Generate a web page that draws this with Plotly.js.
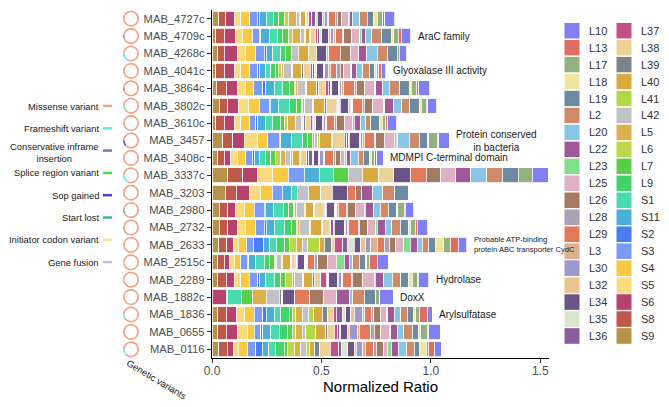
<!DOCTYPE html>
<html><head><meta charset="utf-8">
<script src="https://cdn.plot.ly/plotly-3.0.1.min.js"></script>
<style>html,body{margin:0;padding:0;background:#fff}#chart{width:669px;height:407px}</style>
</head><body><div id="chart"></div>
<script>
// ---------- categories ----------
const genes = ['MAB_4727c','MAB_4709c','MAB_4268c','MAB_4041c','MAB_3864c','MAB_3802c','MAB_3610c','MAB_3457','MAB_3408c','MAB_3337c','MAB_3203','MAB_2980','MAB_2732','MAB_2633','MAB_2515c','MAB_2289','MAB_1882c','MAB_1836','MAB_0655','MAB_0116'];

// legend order of the stacked components and their colours
const legendNames  = ['L10','L13','L17','L18','L19','L2','L20','L22','L23','L25','L26','L28','L29','L3','L30','L32','L34','L35','L36','L37','L38','L39','L40','L41','L42','L5','L6','L7','L9','S1','S11','S2','S3','S4','S5','S6','S8','S9'];
const legendColors = ['#8080F2','#DE6E5F','#92B381','#EFE4A0','#6E8AA0','#CF8A6A','#87C6E6','#A05898','#7FDF8A','#E0B0C4','#A57A62','#A9A2B3','#E07A5A','#DEB08E','#9F98CD','#ECC48E','#6B5587','#D9E5CD','#8C5C9C','#C45088','#ECD296','#7B8589','#D9AA42','#B2D846','#C2C1C6','#DEB04C','#BAD84A','#5ACF4A','#44D46E','#48DAB0','#4AB0D8','#4A7CF2','#7B9BF8','#FAC942','#FADC7F','#B8426E','#BE5A4A','#B8924A'];

// stacking order (left to right) of the values in each gene row
const segments = ['S9','S8','S6','S5','S4','S3','S2','S11','S1','L9','L7','L6','L5','L42','L41','L40','L39','L38','L37','L36','L35','L34','L32','L30','L3','L29','L28','L26','L25','L23','L22','L20','L2','L19','L18','L17','L13','L10'];

// ---------- normalized ratio per component, one row per gene (segments order) ----------
const MAB_4727c = [.030,.033,.041,.027,.041,.035,.008,.033,.035,.023,.023,.020,.038,.012,.006,.023,.005,.010,.012,.020,.006,.025,.008,.012,.008,.030,.008,.020,.030,.006,.012,.035,.035,.030,.015,.025,.010,.046];
const MAB_4709c = [.018,.038,.053,.030,.046,.030,.008,.038,.040,.020,.030,.015,.040,.015,.008,.015,.006,.025,.008,.010,.008,.030,.010,.012,.012,.030,.008,.033,.040,.006,.018,.030,.045,.045,.010,.022,.012,.045];
const MAB_4268c = [.026,.030,.061,.038,.046,.038,.008,.030,.038,.020,.026,0,0,.034,0,.046,0,.038,0,0,0,.046,0,0,.008,.053,0,.046,.038,0,.038,.046,.046,.046,0,.010,0,.035];
const MAB_4041c = [.018,.038,.046,.030,.038,.038,.008,.030,.023,.023,.010,.015,.010,.038,.005,.040,.008,.030,.012,.010,.008,.030,.008,.015,.010,.030,.015,.015,.030,.008,.020,.030,.030,.025,.008,.010,.012,.020];
const MAB_3864c = [.020,.045,.053,.035,.038,.040,.015,.038,.038,.030,.023,.005,.010,.038,.006,.045,.006,.035,.012,.010,.006,.030,.006,.010,.006,.053,.006,.038,.046,.006,.030,.032,.046,.046,.008,.022,.012,.050];
const MAB_3802c = [.033,.040,.050,.046,.046,.046,.006,.036,.053,.030,.023,.006,.008,.038,.005,.050,.005,.046,.008,.005,.005,.041,.005,.008,.005,.046,.005,.040,.050,.005,.038,.038,.038,.046,.006,.023,.008,.039];
const MAB_3610c = [.018,.038,.046,.030,.038,.030,.008,.038,.030,.036,.020,.015,.035,.025,.005,.008,.006,.023,.008,.008,.008,.030,.005,.010,.006,.038,.006,.038,.038,.006,.030,.023,.023,.038,.015,.015,.010,.041];
const MAB_3457  = [.049,.045,.053,.061,.046,.053,.008,.046,.053,.023,.023,0,.008,.015,.008,.053,.008,.053,.010,.008,.005,.046,.005,.008,.008,.046,.008,.038,.046,.008,.008,.053,.046,.038,.005,.038,.008,.047];
const MAB_3408c = [.026,.030,.030,.030,.038,.030,.008,.023,.030,.023,.023,.023,.023,.023,.008,.030,.006,.030,.008,.015,.008,.020,.008,.015,.008,.040,.008,.023,.020,.008,.020,.033,.023,.030,.008,.015,.008,.030];
const MAB_3337c = [.072,.068,.068,.068,.073,.072,0,.068,.068,0,.065,0,0,.064,0,.076,0,.068,0,0,0,.076,0,0,0,.072,0,.068,.068,0,.068,.073,.072,.072,0,.065,0,.073];
const MAB_3203  = [.060,.050,.060,.053,.053,.046,0,.040,.028,0,0,0,0,.053,0,.053,0,.053,0,0,0,.068,0,0,0,.040,0,.028,0,0,.050,.046,.053,.062,0,0,0,0];
const MAB_2980  = [.033,.038,.038,.038,.046,.046,.005,.038,.046,.023,.023,.005,.005,.038,.005,.038,.005,.038,.005,.005,.005,.038,.005,.005,.005,.038,.005,.038,.038,.005,.038,.030,.038,.038,.005,.030,.005,.038];
const MAB_2732  = [.033,.038,.046,.038,.046,.038,.008,.038,.046,.030,.023,.005,.010,.046,.005,.050,.005,.030,.008,.010,.005,.046,.005,.008,.005,.046,.005,.038,.038,.005,.038,.030,.038,.038,.008,.023,.010,.046];
const MAB_2633  = [.030,.037,.030,.023,.038,.030,.046,.030,.030,.038,.023,.030,.030,.023,.053,.023,.030,.015,.038,.023,.030,.030,.023,.023,.030,.030,.023,.030,.038,.030,.030,.023,.030,.030,.038,.030,.038,.038];
const MAB_2515c = [.026,.030,.023,.023,.030,.030,.005,.033,.038,.023,.023,.005,.005,.023,.005,.038,.005,.010,.005,.005,.005,.033,.005,.005,.005,.030,.015,.046,.038,.038,.023,.015,.030,.030,.005,.010,.038,.049];
const MAB_2289  = [.026,.038,.038,.030,.038,.038,.008,.030,.038,.030,.023,.030,.010,.038,.005,.040,.008,.030,.023,.005,.008,.038,.005,.015,.005,.040,.005,.046,.053,.005,.038,.040,.038,.038,.015,.023,.005,.048];
const MAB_1882c = [0,0,.064,0,0,0,0,.005,.064,0,.053,0,.061,.061,0,0,.008,.007,0,0,0,.056,0,0,0,.068,0,.061,.061,0,.058,.016,.053,.053,0,.018,0,.062];
const MAB_1836  = [.026,.038,.046,.038,.046,.038,.015,.038,.030,.038,.015,.015,.030,.030,.023,.038,.023,.030,.010,.030,.015,.023,.015,.038,.010,.030,.010,.030,.030,.005,.030,.030,.030,.030,.008,.015,.038,.023];
const MAB_0655  = [.026,.038,.053,.046,.030,.030,.008,.038,.038,.038,.023,.015,.030,.015,.046,.046,.008,.030,.015,.008,.008,.030,.008,.038,.008,.053,.015,.030,.038,.008,.030,.030,.038,.030,.008,.030,.008,.051];
const MAB_0116  = [.030,.040,.030,.020,.040,.040,.030,.030,.030,.040,.015,.030,.030,.025,.015,.025,.020,.050,.040,.010,.030,.030,.010,.030,.010,.040,.010,.035,.015,.020,.030,.040,.035,.025,.030,.008,.030,.030];

// ---------- genetic variants (share per gene, %) ----------
const variants = ['Missense variant','Frameshift variant','Conservative inframe insertion','Splice region variant','Sop gained','Start lost','Initiator codon variant','Gene fusion'];
const variantLabels = ['Missense variant','Frameshift variant','Conservative inframe<br>insertion','Splice region variant','Sop gained','Start lost','Initiator codon variant','Gene fusion'];
const variantColors = ['#F4A184','#5CEFEF','#7282A8','#48E048','#4646E0','#3DB799','#FFE08C','#C2C2DA'];
const missense     = [100,96,85,100,95,92,100,88,100,85,100,92,100,100,97,97,100,92,100,88];
const frameshift   = [0,0,15,0,0,8,0,0,0,15,0,0,0,0,0,0,0,8,0,12];
const conservative = [0,4,0,0,5,0,0,0,0,0,0,0,0,0,0,0,0,0,0,0];
const splice       = [0,0,0,0,0,0,0,0,0,0,0,0,0,0,0,0,0,0,0,0];
const sopGained    = [0,0,0,0,0,0,0,12,0,0,0,0,0,0,0,0,0,0,0,0];
const startLost    = [0,0,0,0,0,0,0,0,0,0,0,8,0,0,0,0,0,0,0,0];
const initiator    = [0,0,0,0,0,0,0,0,0,0,0,0,0,0,0,0,0,0,0,0];
const geneFusion   = [0,0,0,0,0,0,0,0,0,0,0,0,0,0,3,3,0,0,0,0];

// ---------- functional notes ----------
const noteGenes = ['MAB_4709c','MAB_4041c','MAB_3457','MAB_3408c','MAB_2633','MAB_2289','MAB_1882c','MAB_1836'];
const noteTexts = ['AraC family','Glyoxalase III activity','Protein conserved<br>in bacteria','MDMPI C-terminal domain','Probable ATP-binding<br>protein ABC transporter CydC','Hydrolase','DoxX','Arylsulfatase'];

const xTickVals = [0, 0.5, 1, 1.5];
const xTickText = ['0.0','0.5','1.0','1.5'];

// ---------- build ----------
const rows = [MAB_4727c,MAB_4709c,MAB_4268c,MAB_4041c,MAB_3864c,MAB_3802c,MAB_3610c,MAB_3457,MAB_3408c,MAB_3337c,MAB_3203,MAB_2980,MAB_2732,MAB_2633,MAB_2515c,MAB_2289,MAB_1882c,MAB_1836,MAB_0655,MAB_0116];
const variantSeries = [missense,frameshift,conservative,splice,sopGained,startLost,initiator,geneFusion];

const FONT = 'Liberation Sans, Arial, sans-serif';
const W = 669, H = 407;
const M = {l: 100, r: 120, t: 10, b: 49};
const PW = W - M.l - M.r, PH = H - M.t - M.b;
const px2x = p => (p - M.l) / PW;
const py2y = p => (M.t + PH - p) / PH;
const axisLeftPx = 212;
const rowPx = PH / genes.length;
const rowCenter = i => M.t + rowPx * (i + 0.5);
const colorOf = n => legendColors[legendNames.indexOf(n)];

const traces = [];
segments.forEach((seg, j) => {
  traces.push({
    type: 'bar', orientation: 'h', name: seg,
    y: genes, x: rows.map(r => r[j] > 0 ? r[j] : null),
    marker: {color: colorOf(seg), line: {color: '#ffffff', width: 0.8}},
    showlegend: false, hoverinfo: 'skip'
  });
});

genes.forEach((g, i) => {
  const cy = rowCenter(i);
  traces.push({
    type: 'pie', labels: variants, values: variantSeries.map(s => s[i]),
    marker: {colors: variantColors, line: {width: 0}},
    hole: 0.8, sort: false, direction: 'clockwise', rotation: 270,
    textinfo: 'none', hoverinfo: 'skip', showlegend: false,
    domain: {x: [px2x(123), px2x(139)], y: [py2y(cy + 8), py2y(cy - 8)]}
  });
});

const shapes = [];
const annotations = [];

// notes next to the bars
const mPerPx = 1.54 / (W - M.r - axisLeftPx);
noteGenes.forEach((g, k) => {
  const total = rows[genes.indexOf(g)].reduce((a, b) => a + b, 0);
  const small = noteTexts[k].indexOf('CydC') >= 0;
  annotations.push({
    x: total + 5 * mPerPx, y: g, xref: 'x', yref: 'y', xanchor: 'left', yanchor: 'middle',
    text: noteTexts[k], showarrow: false, align: small ? 'left' : 'center',
    font: {family: FONT, size: small ? 7.6 : 10, color: '#1a1a1a'}
  });
});

// component legend (two columns)
legendNames.forEach((n, k) => {
  const col = k < 19 ? 0 : 1, r = k % 19;
  const x0 = col ? 616 : 564;
  const cy = 30.7 + r * 16.96;
  shapes.push({type: 'rect', xref: 'paper', yref: 'paper',
    x0: px2x(x0), x1: px2x(x0 + 16), y0: py2y(cy + 8.3), y1: py2y(cy - 8.3),
    fillcolor: legendColors[k], line: {color: '#ffffff', width: 1}});
  annotations.push({x: px2x(x0 + 23), y: py2y(cy), xref: 'paper', yref: 'paper',
    xanchor: 'left', yanchor: 'middle', text: n, showarrow: false,
    font: {family: FONT, size: 11, color: '#333333'}});
});

// variant legend (text left, line key right)
variantLabels.forEach((t, k) => {
  const cy = 106 + k * 22.3;
  shapes.push({type: 'line', xref: 'paper', yref: 'paper',
    x0: px2x(103), x1: px2x(112), y0: py2y(cy), y1: py2y(cy),
    line: {color: variantColors[k], width: 2.5}});
  annotations.push({x: px2x(101), y: py2y(cy + (k === 2 ? 1.5 : 0)), xref: 'paper', yref: 'paper',
    xanchor: 'right', yanchor: 'middle', text: t, showarrow: false, align: 'center',
    font: {family: FONT, size: 9.4, color: '#1a1a1a'}});
});

annotations.push({x: px2x(157), y: py2y(379), xref: 'paper', yref: 'paper',
  xanchor: 'center', yanchor: 'middle', text: 'Genetic variants', textangle: 31,
  showarrow: false, font: {family: FONT, size: 9.4, color: '#1a1a1a'}});

const layout = {
  width: W, height: H, margin: M,
  paper_bgcolor: '#ffffff', plot_bgcolor: '#ffffff',
  barmode: 'stack', bargap: 0.12, showlegend: false,
  font: {family: FONT},
  xaxis: {
    domain: [px2x(axisLeftPx), 1], range: [0, 1.54],
    tickvals: xTickVals, ticktext: xTickText,
    ticks: 'outside', ticklen: 4, tickcolor: '#333333', tickwidth: 1,
    ticklabelstandoff: -3,
    showline: true, linecolor: '#000000', linewidth: 1.2,
    showgrid: false, zeroline: false,
    tickfont: {family: FONT, size: 12, color: '#4d4d4d'},
    title: {text: 'Normalized Ratio', font: {family: FONT, size: 15, color: '#000000'}, standoff: 1}
  },
  yaxis: {
    type: 'category', categoryorder: 'array', categoryarray: genes, autorange: 'reversed',
    ticks: 'outside', ticklen: 4, tickcolor: '#333333', tickwidth: 1,
    showline: true, linecolor: '#000000', linewidth: 1.2,
    showgrid: false, zeroline: false,
    tickfont: {family: FONT, size: 11.2, color: '#4d4d4d'}
  },
  shapes: shapes, annotations: annotations
};

Plotly.newPlot('chart', traces, layout, {staticPlot: true, displayModeBar: false});
</script>
</body></html>
